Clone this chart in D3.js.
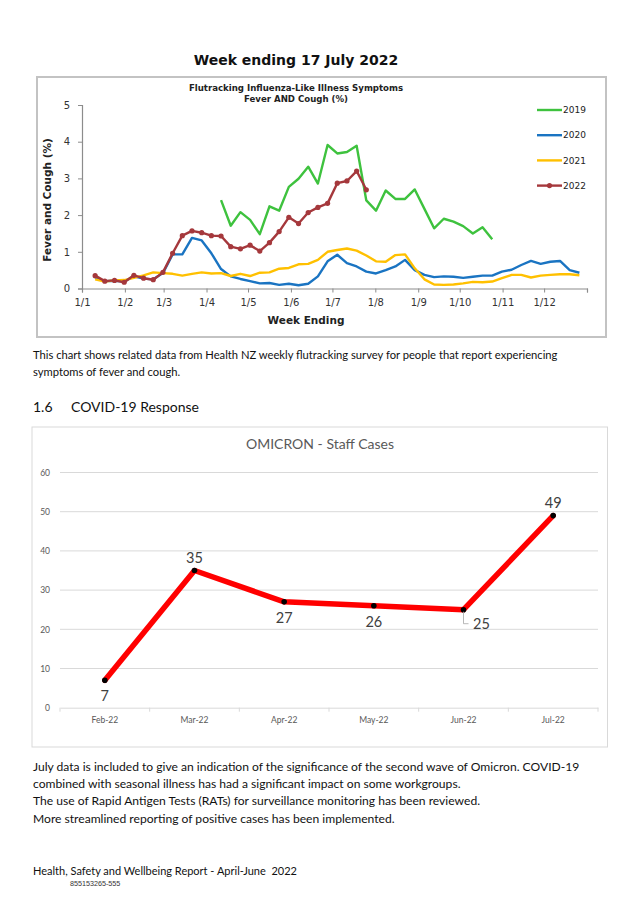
<!DOCTYPE html>
<html>
<head>
<meta charset="utf-8">
<script src="https://cdn.jsdelivr.net/npm/d3@7"></script>
<style>
  body { margin: 0; background: #fff; }
</style>
</head>
<body>
<div id="page"></div>
<script>
// top chart data: weekly % with fever and cough (week index 0 = week ending ~10 Jan)
var monthLabels = ["1/1", "1/2", "1/3", "1/4", "1/5", "1/6", "1/7", "1/8", "1/9", "1/10", "1/11", "1/12"];
var monthStartDays = [0, 31, 59, 90, 120, 151, 181, 212, 243, 273, 304, 334];
var yTicksFlu = [0, 1, 2, 3, 4, 5];
var fluYears = ["2019", "2020", "2021", "2022"];

var fc2019 = [null, null, null, null, null, null, null, null, null, null, null, null, null,
  2.41, 1.71, 2.08, 1.87, 1.48, 2.24, 2.12, 2.77, 2.99, 3.32, 2.86, 3.91, 3.68, 3.72, 3.89,
  2.40, 2.12, 2.67, 2.44, 2.44, 2.70, 2.17, 1.64, 1.90, 1.82, 1.70, 1.50, 1.67, 1.34];
var fc2020 = [0.30, 0.20, 0.21, 0.19, 0.33, 0.27, 0.25, 0.42, 0.93, 0.93, 1.38, 1.31, 0.96, 0.53,
  0.33, 0.26, 0.20, 0.14, 0.15, 0.10, 0.13, 0.09, 0.13, 0.33, 0.74, 0.92, 0.69, 0.60, 0.46,
  0.41, 0.50, 0.60, 0.78, 0.50, 0.37, 0.31, 0.33, 0.32, 0.29, 0.32, 0.35, 0.35, 0.46, 0.51,
  0.64, 0.75, 0.67, 0.73, 0.75, 0.50, 0.43];
var fc2021 = [0.25, 0.19, 0.22, 0.23, 0.29, 0.36, 0.44, 0.42, 0.40, 0.35, 0.40, 0.44, 0.41, 0.42,
  0.34, 0.40, 0.34, 0.43, 0.44, 0.54, 0.56, 0.66, 0.67, 0.78, 1.00, 1.05, 1.09, 1.03, 0.90,
  0.74, 0.73, 0.91, 0.93, 0.55, 0.25, 0.11, 0.10, 0.11, 0.14, 0.18, 0.17, 0.19, 0.28, 0.37,
  0.37, 0.30, 0.35, 0.37, 0.39, 0.39, 0.36];
var fc2022 = [0.35, 0.20, 0.22, 0.17, 0.36, 0.28, 0.24, 0.44, 0.96, 1.44, 1.57, 1.52, 1.44, 1.43,
  1.14, 1.08, 1.18, 1.02, 1.25, 1.55, 1.94, 1.77, 2.07, 2.21, 2.32, 2.87, 2.93, 3.20, 2.69];

// bottom chart data
var omicronMonths = ["Feb-22", "Mar-22", "Apr-22", "May-22", "Jun-22", "Jul-22"];
var omicronCases = [7, 35, 27, 26, 25, 49];
var yTicksOmicron = [0, 10, 20, 30, 40, 50, 60];

var W = 638, H = 908;
var svg = d3.select("#page").append("svg").attr("width", W).attr("height", H);
svg.append("rect").attr("width", W).attr("height", H).attr("fill", "#fff");

var bodyFont = "Lato, 'Open Sans', sans-serif";
var xlFont = "'DejaVu Sans', Verdana, sans-serif";

// ---------- heading ----------
svg.append("text").attr("x", 296).attr("y", 65)
	.attr("text-anchor", "middle")
	.style("font-family", xlFont).style("font-weight", "bold").style("font-size", "14px")
	.attr("fill", "#111")
	.text("Week ending 17 July 2022");

// ---------- flutracking chart ----------
svg.append("rect").attr("x", 37).attr("y", 77).attr("width", 569).attr("height", 260)
	.attr("fill", "#fff").attr("stroke", "#c3c3c3").attr("stroke-width", 2);

svg.append("text").attr("x", 296).attr("y", 91).attr("text-anchor", "middle")
	.style("font-family", xlFont).style("font-weight", "bold").style("font-size", "8.6px")
	.attr("fill", "#222").text("Flutracking Influenza-Like Illness Symptoms");
svg.append("text").attr("x", 296).attr("y", 102).attr("text-anchor", "middle")
	.style("font-family", xlFont).style("font-weight", "bold").style("font-size", "8.6px")
	.attr("fill", "#222").text("Fever AND Cough (%)");

var xDay = d3.scaleLinear().domain([0, 365]).range([82, 587]);
var yFlu = d3.scaleLinear().domain([0, 5]).range([288.5, 105]);
var weekX = function(k) { return xDay(9.5 + 7 * k); };

var gx = svg.append("g").attr("transform", "translate(0," + yFlu(0) + ")")
	.call(d3.axisBottom(xDay).tickValues(monthStartDays.concat([365])).tickSize(4)
		.tickFormat(function(d, i) { return monthLabels[i] || ""; }));
var gy = svg.append("g").attr("transform", "translate(" + xDay(0) + ",0)")
	.call(d3.axisLeft(yFlu).tickValues(yTicksFlu).tickSize(4).tickFormat(d3.format("d")));
[gx, gy].forEach(function(g) {
	g.select(".domain").attr("stroke", "#8c8c8c").attr("stroke-width", 1.2);
	g.selectAll(".tick line").attr("stroke", "#8c8c8c");
	g.selectAll("text").style("font-family", xlFont).style("font-size", "10px").attr("fill", "#333");
});
gx.selectAll("text").attr("dy", "1.05em");
gy.selectAll("text").attr("dx", "-0.5em");

svg.append("text").attr("x", 306).attr("y", 324).attr("text-anchor", "middle")
	.style("font-family", xlFont).style("font-weight", "bold").style("font-size", "10.5px")
	.attr("fill", "#222").text("Week Ending");
svg.append("text").attr("transform", "translate(51,200) rotate(-90)").attr("text-anchor", "middle")
	.style("font-family", xlFont).style("font-weight", "bold").style("font-size", "10.5px")
	.attr("fill", "#222").text("Fever and Cough (%)");

var fluSeries = [
	{ name: "2019", values: fc2019, color: "#3ec23e" },
	{ name: "2020", values: fc2020, color: "#1a74c2" },
	{ name: "2021", values: fc2021, color: "#ffc000" },
	{ name: "2022", values: fc2022, color: "#a5383c" }
];

var fluLine = d3.line()
	.defined(function(d) { return d != null; })
	.x(function(d, i) { return weekX(i); })
	.y(function(d) { return yFlu(d); });

fluSeries.forEach(function(s) {
	svg.append("path").datum(s.values)
		.attr("d", fluLine)
		.attr("fill", "none")
		.attr("stroke", s.color)
		.attr("stroke-width", 2.4)
		.attr("stroke-linejoin", "round");
});

svg.append("g").selectAll("circle").data(fc2022).enter().append("circle")
	.attr("cx", function(d, i) { return weekX(i); })
	.attr("cy", function(d) { return yFlu(d); })
	.attr("r", 2.6)
	.attr("fill", "#a5383c");

// legend
var legend = svg.append("g");
fluSeries.forEach(function(s, i) {
	var ly = 110 + i * 25.2;
	legend.append("line").attr("x1", 537).attr("x2", 562).attr("y1", ly).attr("y2", ly)
		.attr("stroke", s.color).attr("stroke-width", 2.4);
	if (s.name === "2022") {
		legend.append("circle").attr("cx", 549.5).attr("cy", ly).attr("r", 2.6).attr("fill", s.color);
	}
	legend.append("text").attr("x", 563).attr("y", ly).attr("dy", "0.35em")
		.style("font-family", xlFont).style("font-size", "9px").attr("fill", "#222")
		.text(s.name);
});

// ---------- text ----------
svg.append("text").attr("x", 33).attr("y", 359)
	.style("font-family", bodyFont).style("font-size", "11.2px").attr("fill", "#111")
	.text("This chart shows related data from Health NZ weekly flutracking survey for people that report experiencing");
svg.append("text").attr("x", 33).attr("y", 376)
	.style("font-family", bodyFont).style("font-size", "11.2px").attr("fill", "#111")
	.text("symptoms of fever and cough.");

svg.append("text").attr("x", 33).attr("y", 412)
	.style("font-family", bodyFont).style("font-size", "14px").attr("fill", "#111")
	.text("1.6");
svg.append("text").attr("x", 71).attr("y", 412)
	.style("font-family", bodyFont).style("font-size", "14px").attr("fill", "#111")
	.text("COVID-19 Response");

// ---------- omicron chart ----------
svg.append("rect").attr("x", 32).attr("y", 427).attr("width", 575.5).attr("height", 320)
	.attr("fill", "#fff").attr("stroke", "#d9d9d9").attr("stroke-width", 1);

svg.append("text").attr("x", 320).attr("y", 449).attr("text-anchor", "middle")
	.style("font-family", bodyFont).style("font-size", "14px").attr("fill", "#595959")
	.text("OMICRON - Staff Cases");

var xBand = d3.scaleBand().domain(omicronMonths).range([60, 598]);
var xOm = function(d) { return xBand(d) + xBand.bandwidth() / 2; };
var yOm = d3.scaleLinear().domain([0, 60]).range([707.7, 472.5]);

svg.append("g").selectAll("line").data(yTicksOmicron.slice(1)).enter().append("line")
	.attr("x1", 60).attr("x2", 598)
	.attr("y1", function(d) { return yOm(d); }).attr("y2", function(d) { return yOm(d); })
	.attr("stroke", "#d9d9d9").attr("stroke-width", 1);

var gyOm = svg.append("g").attr("transform", "translate(60,0)")
	.call(d3.axisLeft(yOm).tickValues(yTicksOmicron).tickSize(0).tickPadding(10));
gyOm.select(".domain").remove();
gyOm.selectAll("text").style("font-family", bodyFont).style("font-size", "8.5px").attr("fill", "#595959");

var gxOm = svg.append("g").attr("transform", "translate(0," + yOm(0) + ")")
	.call(d3.axisBottom(xBand).tickSize(0).tickPadding(9));
gxOm.select(".domain").attr("stroke", "#d9d9d9");
gxOm.selectAll("text").style("font-family", bodyFont).style("font-size", "8.5px").attr("fill", "#595959");
gxOm.selectAll(".sep").data(omicronMonths.concat(["end"])).enter().append("line")
	.attr("class", "sep")
	.attr("x1", function(d, i) { return 60 + i * xBand.bandwidth(); })
	.attr("x2", function(d, i) { return 60 + i * xBand.bandwidth(); })
	.attr("y1", 0).attr("y2", 4)
	.attr("stroke", "#d9d9d9");

var omLine = d3.line()
	.x(function(d, i) { return xOm(omicronMonths[i]); })
	.y(function(d) { return yOm(d); });

svg.append("path").datum(omicronCases)
	.attr("d", omLine)
	.attr("fill", "none")
	.attr("stroke", "#ff0000")
	.attr("stroke-width", 5.5)
	.attr("stroke-linejoin", "round")
	.attr("stroke-linecap", "round");

svg.append("g").selectAll("circle").data(omicronCases).enter().append("circle")
	.attr("cx", function(d, i) { return xOm(omicronMonths[i]); })
	.attr("cy", function(d) { return yOm(d); })
	.attr("r", 2.8)
	.attr("fill", "#000");

// data labels: above for peaks, below otherwise; Jun label sits off to the right with a leader
var labelPlace = ["below", "above", "below", "below", "leader", "above"];
omicronCases.forEach(function(v, i) {
	var px = xOm(omicronMonths[i]), py = yOm(v);
	var lx = px, ly = py;
	if (labelPlace[i] === "above") ly = py - 13;
	else if (labelPlace[i] === "below") ly = py + 16;
	else {
		lx = px + 18; ly = py + 14.5;
		svg.append("path")
			.attr("d", "M" + px + "," + (py + 2) + "V" + (py + 14) + "H" + (px + 5))
			.attr("fill", "none").attr("stroke", "#a6a6a6").attr("stroke-width", 0.8);
	}
	svg.append("text").attr("x", lx).attr("y", ly).attr("dy", "0.35em")
		.attr("text-anchor", "middle")
		.style("font-family", bodyFont).style("font-size", "14.5px").attr("fill", "#404040")
		.text(v);
});

// ---------- closing text ----------
var notes = [
	"July data is included to give an indication of the significance of the second wave of Omicron. COVID-19",
	"combined with seasonal illness has had a significant impact on some workgroups.",
	"The use of Rapid Antigen Tests (RATs) for surveillance monitoring has been reviewed.",
	"More streamlined reporting of positive cases has been implemented."
];
svg.append("g").selectAll("text").data(notes).enter().append("text")
	.attr("x", 33)
	.attr("y", function(d, i) { return 771 + i * 17.2; })
	.style("font-family", bodyFont).style("font-size", "12.1px").attr("fill", "#111")
	.text(function(d) { return d; });

svg.append("text").attr("x", 33).attr("y", 875)
	.style("font-family", bodyFont).style("font-size", "11px").attr("fill", "#111")
	.style("white-space", "pre")
	.text("Health, Safety and Wellbeing Report - April-June  2022");
svg.append("text").attr("x", 70).attr("y", 886)
	.style("font-family", "'Liberation Sans', Arial, sans-serif").style("font-size", "7.2px").attr("fill", "#333")
	.text("855153265-555");
</script>
</body>
</html>
